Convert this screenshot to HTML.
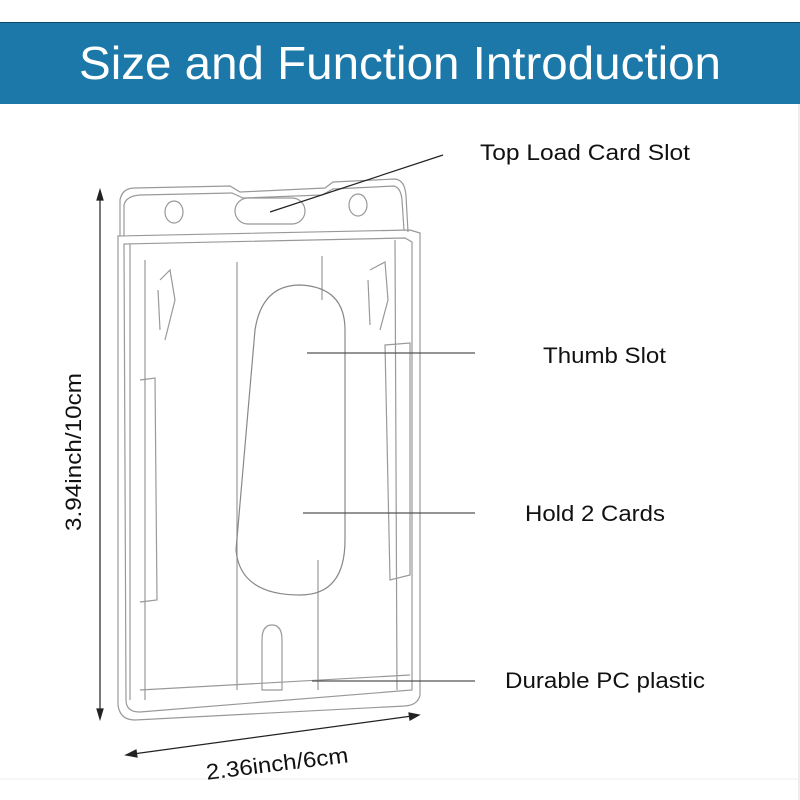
<!DOCTYPE html>
<html><head><style>
body{margin:0;width:800px;height:800px;background:#fff;overflow:hidden;font-family:"Liberation Sans",sans-serif;}
</style></head><body>
<svg width="800" height="800" xmlns="http://www.w3.org/2000/svg" style="position:absolute;left:0;top:0">
<rect x="0" y="22" width="800" height="82" fill="#1b78a8"/>
<line x1="0" y1="22.5" x2="800" y2="22.5" stroke="#0d4a6a" stroke-width="1"/>
<text x="400" y="79" text-anchor="middle" fill="#fff" font-size="46" font-family="Liberation Sans,sans-serif" textLength="642" lengthAdjust="spacingAndGlyphs">Size and Function Introduction</text>
<line x1="799" y1="104" x2="799" y2="800" stroke="#ddd"/>
<line x1="0" y1="779" x2="800" y2="779" stroke="#eee"/>
<g fill="none" stroke="#999" stroke-width="1.2">
<path d="M120 236 L120 200 Q122 188 135 188 L230 186 L240 192 L325 188 L333 182 L395 179 Q405 180 406 196 L408 232"/>
<path d="M124 236 L124 205 Q126 196 140 195 L232 193 L243 198 L322 195 L333 189 L394 186 Q401 188 402 200 L404 230"/>
<ellipse cx="174" cy="212" rx="9" ry="11"/>
<ellipse cx="358" cy="205" rx="9" ry="11"/>
<rect x="235" y="198" width="70" height="26" rx="13"/>
<path d="M118 236 L410 230 L420 233 L420 695 Q418 705 405 706 L135 720 Q120 720 118 705 Z"/>
<path d="M124 244 L405 238 L412 242 L412 690 L140 712 Q126 712 126 700 Z"/>
<path d="M130 244 L130 700"/>
<path d="M145 260 L145 700"/>
<path d="M395 240 L397 690"/>
<path d="M385 345 L410 343 L410 575 L390 580 Z"/>
<path d="M140 380 L155 378 L157 600 L140 602"/>
<path d="M237 262 L237 690"/><path d="M322 256 L322 300"/>
<path d="M318 560 L318 690"/>
<path d="M160 280 L170 270 L175 300 L165 340 M158 290 L160 330"/>
<path d="M370 270 L385 262 L388 300 L380 330 M368 280 L370 325"/>
<path d="M262 640 Q262 625 272 625 Q282 625 282 640 L282 690 L262 690 Z"/>
<path d="M140 690 L410 675"/>
<path d="M255 330 Q262 285 300 285 Q345 287 345 330 L345 540 Q345 595 300 595 Q240 595 236 550 Z" stroke="#888"/>
</g>
<g stroke="#222" stroke-width="1.2" fill="#222">
<line x1="443" y1="155" x2="270" y2="212"/>
<line x1="307" y1="353" x2="475" y2="353" stroke="#555"/>
<line x1="303" y1="513" x2="475" y2="513" stroke="#555"/>
<line x1="312" y1="681" x2="475" y2="681" stroke="#555"/>
<line x1="100" y1="198" x2="100" y2="712"/>
<path d="M100 190 L97 200 L103 200 Z"/><path d="M100 719 L97 709 L103 709 Z"/>
<line x1="133" y1="754" x2="412" y2="716"/>
<path d="M126 755 L136 750 L137 757 Z"/><path d="M419 715 L409 713 L410 720 Z"/>
</g>
<g font-family="Liberation Sans,sans-serif" font-size="22" fill="#111" lengthAdjust="spacingAndGlyphs">
<text x="480" y="160" textLength="210" lengthAdjust="spacingAndGlyphs">Top Load Card Slot</text>
<text x="543" y="363" textLength="123" lengthAdjust="spacingAndGlyphs">Thumb Slot</text>
<text x="525" y="521" textLength="140" lengthAdjust="spacingAndGlyphs">Hold 2 Cards</text>
<text x="505" y="688" textLength="200" lengthAdjust="spacingAndGlyphs">Durable PC plastic</text>
<text transform="translate(81,452) rotate(-90)" text-anchor="middle" textLength="158" lengthAdjust="spacingAndGlyphs">3.94inch/10cm</text>
<text transform="translate(278,771) rotate(-7)" text-anchor="middle" textLength="143" lengthAdjust="spacingAndGlyphs">2.36inch/6cm</text>
</g>
</svg>
</body></html>
